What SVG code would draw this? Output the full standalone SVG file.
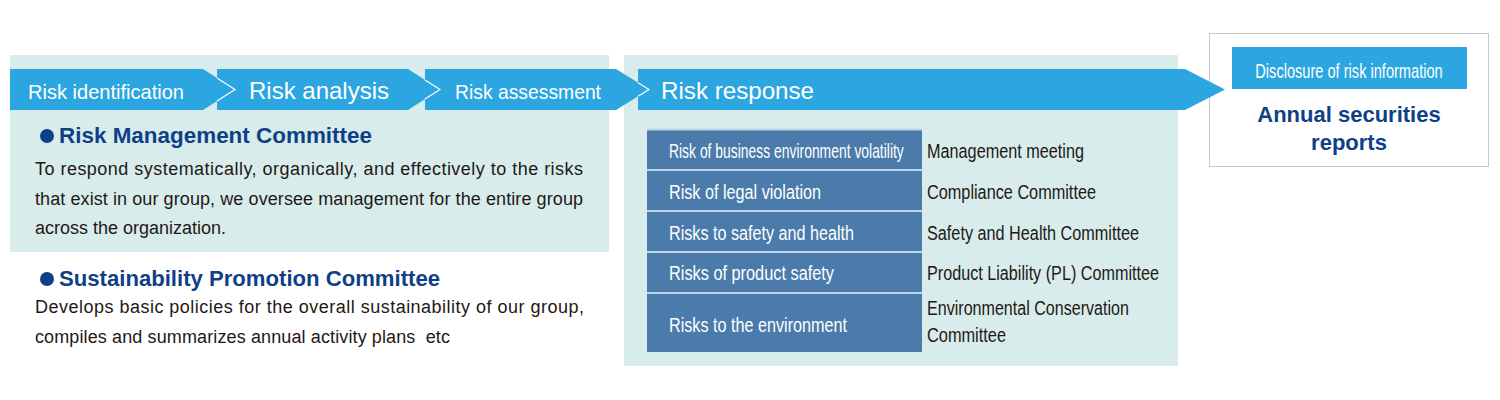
<svg xmlns="http://www.w3.org/2000/svg" width="1500" height="400" viewBox="0 0 1500 400">
<style>
.panel{fill:#d8ecec}
.arrow{fill:#2ca6e0}
.aw{fill:#fff;font-family:"Liberation Sans",Arial,sans-serif}
.head{fill:#0f3f87;font-family:"Liberation Sans",Arial,sans-serif;font-weight:bold;font-size:22px}
.body{fill:#231815;font-family:"Liberation Sans",Arial,sans-serif;font-size:18px}
.cell{fill:#4a7bab}
.sep{stroke:#c2d6e9;stroke-width:2;fill:none}
.ct{fill:#fff;font-family:"Liberation Sans",Arial,sans-serif;font-size:20px}
.rt{fill:#231815;font-family:"Liberation Sans",Arial,sans-serif;font-size:20px}
.chev{fill:none;stroke:#fff;stroke-width:1.2}
</style>
<rect width="1500" height="400" fill="#fff"/>
<g id="panels">
<rect class="panel" x="10" y="55" width="599" height="197"/>
<rect class="panel" x="624" y="55" width="554" height="311"/>
</g>
<g id="disclosure">
<rect x="1209.5" y="33.5" width="279" height="133" fill="#fff" stroke="#c8c8c8" stroke-width="1"/>
<rect x="1232" y="47" width="235" height="42" fill="#2ca6e0"/>
<text class="aw" x="0" y="0" font-size="20" text-anchor="middle" transform="translate(1349,78) scale(0.73,1)">Disclosure of risk information</text>
<text class="head" x="1349" y="122" text-anchor="middle">Annual securities</text>
<text class="head" x="1349" y="150" text-anchor="middle">reports</text>
</g>
<g id="stage-response">
<polygon class="arrow" points="638,69 1185,69 1225,89.5 1185,110 638,110"/>
<text class="aw" x="661" y="99" font-size="24" textLength="153" lengthAdjust="spacingAndGlyphs">Risk response</text>
</g>
<g id="stage-assessment">
<polygon class="arrow" points="425,69 616,69 649,89.5 616,110 425,110"/>
<text class="aw" x="455" y="99" font-size="21" textLength="146" lengthAdjust="spacingAndGlyphs">Risk assessment</text>
</g>
<g id="stage-analysis">
<polygon class="arrow" points="217,69 408,69 440,89.5 408,110 217,110"/>
<text class="aw" x="249" y="99" font-size="24" textLength="140" lengthAdjust="spacingAndGlyphs">Risk analysis</text>
</g>
<g id="stage-identification">
<polygon class="arrow" points="10,69 203,69 235,89.5 203,110 10,110"/>
<text class="aw" x="28" y="99" font-size="21" textLength="156" lengthAdjust="spacingAndGlyphs">Risk identification</text>
</g>
<g id="connectors">
<polyline class="chev" points="217,78 235,89.5 217,101"/>
<polyline class="chev" points="425,79.9 440,89.5 425,99.1"/>
<polyline class="chev" points="638,82.7 649,89.5 638,96.3"/>
</g>
<g id="risk-management-committee">
<circle cx="47" cy="136" r="7" fill="#0f3f87"/>
<text class="head" x="59" y="143" textLength="313" lengthAdjust="spacingAndGlyphs">Risk Management Committee</text>
<text class="body" x="35" y="175" textLength="548" lengthAdjust="spacing">To respond systematically, organically, and effectively to the risks</text>
<text class="body" x="35" y="205" textLength="548" lengthAdjust="spacing">that exist in our group, we oversee management for the entire group</text>
<text class="body" x="35" y="234">across the organization.</text>
</g>
<g id="sustainability-promotion-committee">
<circle cx="47" cy="279" r="7" fill="#0f3f87"/>
<text class="head" x="59" y="286" textLength="381" lengthAdjust="spacingAndGlyphs">Sustainability Promotion Committee</text>
<text class="body" x="35" y="313" textLength="549" lengthAdjust="spacing">Develops basic policies for the overall sustainability of our group,</text>
<text class="body" x="35" y="343" textLength="415" lengthAdjust="spacing" xml:space="preserve">compiles and summarizes annual activity plans  etc</text>
</g>
<g id="risk-table">
<rect class="cell" x="647" y="129" width="275" height="40"/>
<rect class="cell" x="647" y="170" width="275" height="40"/>
<rect class="cell" x="647" y="211" width="275" height="40"/>
<rect class="cell" x="647" y="252" width="275" height="40"/>
<rect class="cell" x="647" y="293" width="275" height="59"/>
<line class="sep" x1="647" y1="129.5" x2="922" y2="129.5" stroke-width="1"/>
<line class="sep" x1="647" y1="170" x2="922" y2="170"/>
<line class="sep" x1="647" y1="211" x2="922" y2="211"/>
<line class="sep" x1="647" y1="252" x2="922" y2="252"/>
<line class="sep" x1="647" y1="293" x2="922" y2="293"/>
<text class="ct" x="0" y="0" transform="translate(669,158) scale(0.695,1)">Risk of business environment volatility</text>
<text class="ct" x="669" y="199" textLength="152" lengthAdjust="spacingAndGlyphs">Risk of legal violation</text>
<text class="ct" x="669" y="240" textLength="185" lengthAdjust="spacingAndGlyphs">Risks to safety and health</text>
<text class="ct" x="669" y="280" textLength="165" lengthAdjust="spacingAndGlyphs">Risks of product safety</text>
<text class="ct" x="669" y="332" textLength="178" lengthAdjust="spacingAndGlyphs">Risks to the environment</text>
<text class="rt" x="927" y="158" textLength="157" lengthAdjust="spacingAndGlyphs">Management meeting</text>
<text class="rt" x="927" y="199" textLength="169" lengthAdjust="spacingAndGlyphs">Compliance Committee</text>
<text class="rt" x="927" y="240" textLength="212" lengthAdjust="spacingAndGlyphs">Safety and Health Committee</text>
<text class="rt" x="927" y="280" textLength="232" lengthAdjust="spacingAndGlyphs">Product Liability (PL) Committee</text>
<text class="rt" x="927" y="315" textLength="202" lengthAdjust="spacingAndGlyphs">Environmental Conservation</text>
<text class="rt" x="927" y="342" textLength="79" lengthAdjust="spacingAndGlyphs">Committee</text>
</g>
</svg>
